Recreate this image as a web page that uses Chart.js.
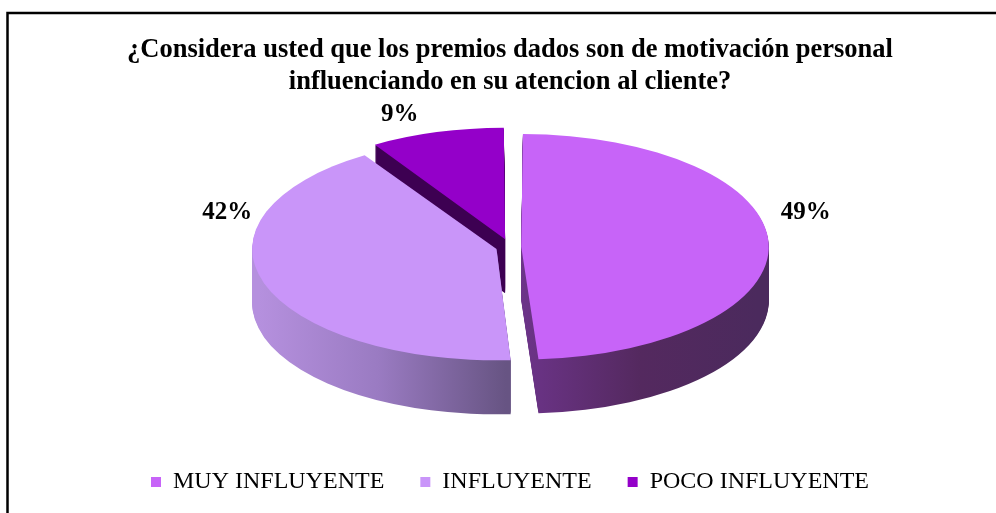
<!DOCTYPE html>
<html>
<head>
<meta charset="utf-8">
<script src="https://cdn.jsdelivr.net/npm/chart.js@4/dist/chart.umd.min.js"></script>
<style>
  html, body { margin: 0; padding: 0; background: #ffffff; }
  canvas { display: block; }
</style>
</head>
<body>
<canvas id="c" width="996" height="513"></canvas>
<script>
// ---- data ----
const titleLines = [
  '¿Considera usted que los premios dados son de motivación personal',
  'influenciando en su atencion al cliente?'
];
const categories = ['MUY INFLUYENTE', 'INFLUYENTE', 'POCO INFLUYENTE'];
const percentages = [49, 42, 9];

// ---- styles ----
const topColors = ['#c764f8', '#c995f9', '#9400c9'];
const sideStops = [
  [[0.5, '#6c3489'], [0.75, '#54295f'], [1, '#4b2a5d']],
  [[0, '#b590de'], [0.25, '#9a7bc2'], [0.52, '#675483']],
  [[0, '#3d0052'], [1, '#3d0052']]
];
const FONT = "'Times New Roman', 'Liberation Serif', Tinos, serif";

const framePlugin = {
  id: 'frame',
  beforeDraw(chart) {
    const ctx = chart.ctx;
    ctx.save();
    ctx.fillStyle = '#ffffff';
    ctx.fillRect(0, 0, chart.width, chart.height);
    ctx.strokeStyle = '#000000';
    ctx.lineWidth = 2.5;
    ctx.strokeRect(7.5, 13, chart.width + 20, chart.height + 20);
    ctx.restore();
  }
};

function effOffset(arc) {
  const o = arc.options.offset || 0;
  const fix = 1 - Math.sin(Math.min(Math.PI, arc.circumference || 0));
  return o / 4 * (1 + fix);
}

const pie3d = {
  id: 'pie3d',
  beforeDatasetsDraw(chart, args, opts) {
    const meta = chart.getDatasetMeta(0);
    const arcs = meta.data;
    const ctx = chart.ctx;
    const a0 = arcs[0];
    const cx0 = a0.x, cy0 = a0.y, r = a0.outerRadius;
    const sx = opts.rx / r, sy = opts.ry / r;
    chart.$pie3d = { cx0, cy0, r, sx, sy };
    const applyT = (dy) => {
      ctx.translate(opts.cx, opts.cy + dy);
      ctx.scale(sx, sy);
      ctx.translate(-cx0, -cy0);
    };
    const grads = arcs.map((arc, i) => {
      const g = ctx.createLinearGradient(cx0 - r, 0, cx0 + r, 0);
      sideStops[i].forEach(s => g.addColorStop(s[0], s[1]));
      return g;
    });
    for (let d = opts.depth; d >= 1; d--) {
      ctx.save();
      applyT(d);
      arcs.forEach((arc, i) => {
        const saved = arc.options;
        const o = Object.create(saved);
        o.backgroundColor = grads[i];
        o.borderWidth = 0;
        arc.options = o;
        arc.draw(ctx);
        arc.options = saved;
      });
      ctx.restore();
    }
    ctx.save();
    applyT(0);
  },
  afterDatasetsDraw(chart, args, opts) {
    const ctx = chart.ctx;
    ctx.restore();
    const g = chart.$pie3d;
    const meta = chart.getDatasetMeta(0);
    const data = chart.data.datasets[0].data;
    const total = data.reduce((a, b) => a + b, 0);
    ctx.save();
    ctx.fillStyle = '#000000';
    ctx.font = 'bold 25px ' + FONT;
    ctx.textAlign = 'center';
    ctx.textBaseline = 'middle';
    meta.data.forEach((arc, i) => {
      const m = (arc.startAngle + arc.endAngle) / 2;
      const off = effOffset(arc);
      const X = opts.cx + (g.r + off) * Math.cos(m) * g.sx;
      const Y = opts.cy + (g.r + off) * Math.sin(m) * g.sy;
      const x = X + 37 * Math.sign(Math.cos(m));
      const y = Math.min(Y - 18, opts.cy - 34);
      ctx.fillText(Math.round(data[i] / total * 100) + '%', x, y);
    });
    ctx.restore();
  }
};

new Chart(document.getElementById('c'), {
  type: 'pie',
  data: {
    labels: categories,
    datasets: [{
      data: percentages,
      backgroundColor: topColors,
      borderWidth: 0,
      offset: [27, 34, 42],
      clip: false
    }]
  },
  options: {
    responsive: false,
    animation: false,
    events: [],
    layout: { padding: { top: 0, bottom: 9, left: 24, right: 0 } },
    plugins: {
      pie3d: { cx: 510, cy: 247, rx: 237, ry: 108, depth: 54 },
      title: {
        display: true,
        text: titleLines,
        color: '#000000',
        font: { family: FONT, size: 26.5, weight: 'bold', lineHeight: 1.2 },
        padding: { top: 34, bottom: 10 }
      },
      legend: {
        position: 'bottom',
        labels: {
          color: '#000000',
          font: { family: FONT, size: 24 },
          boxWidth: 10,
          boxHeight: 10,
          padding: 36
        }
      },
      tooltip: { enabled: false }
    }
  },
  plugins: [framePlugin, pie3d]
});
</script>
</body>
</html>
